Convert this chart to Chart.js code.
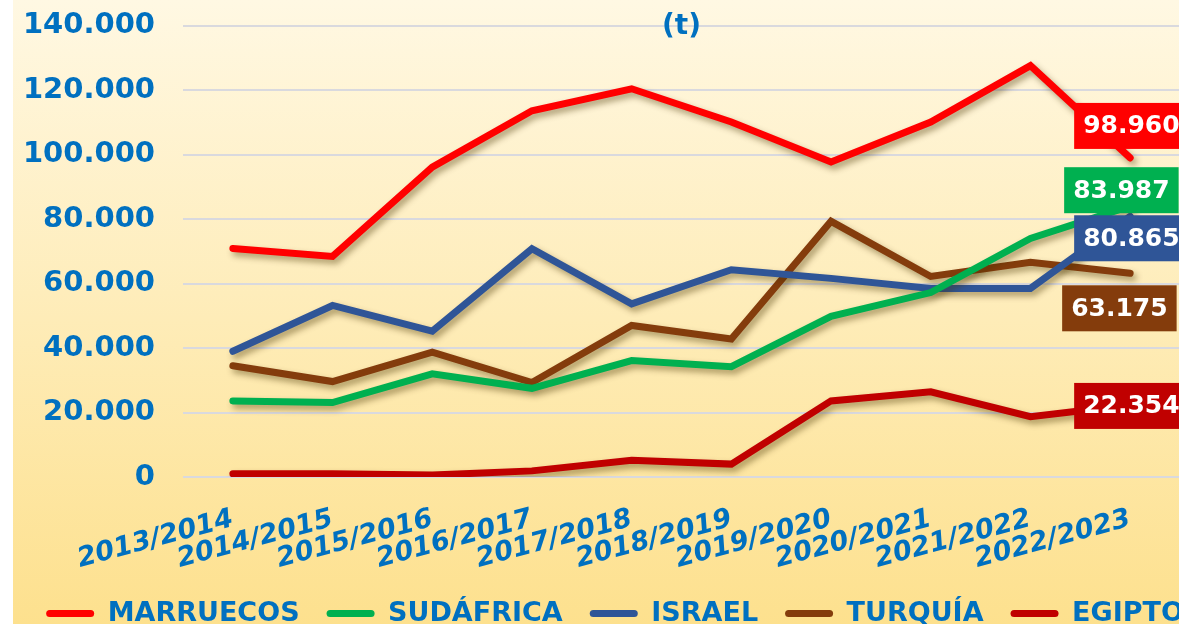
<!DOCTYPE html>
<html>
<head>
<meta charset="utf-8">
<script src="https://cdn.jsdelivr.net/npm/chart.js@4.4.1/dist/chart.umd.min.js"></script>
<style>
  html, body { margin: 0; padding: 0; background: #fff; overflow: hidden; }
  #wrap {
    position: absolute; left: 13px; top: 0;
    width: 1204px; height: 637px;
    background: linear-gradient(#fff8e3, #fde08c);
  }
</style>
</head>
<body>
<div id="wrap"><canvas id="chart"></canvas></div>
<script>
// campaigns on the x axis
const seasons = ['2013/2014', '2014/2015', '2015/2016', '2016/2017', '2017/2018',
                 '2018/2019', '2019/2020', '2020/2021', '2021/2022', '2022/2023'];

// tonnes per country
const marruecos = [70900, 68400, 96100, 113600, 120400, 110100, 97700, 110100, 127600, 98960];
const sudafrica = [23600, 23100, 32000, 27500, 36100, 34200, 49800, 57200, 74000, 83987];
const israel    = [39000, 53200, 45200, 70800, 53700, 64300, 61600, 58500, 58500, 80865];
const turquia   = [34500, 29600, 38700, 29300, 47000, 42800, 79300, 62200, 66600, 63175];
const egipto    = [1000, 1000, 600, 1900, 5200, 4000, 23600, 26400, 18700, 22354];

const countries = ['MARRUECOS', 'SUDÁFRICA', 'ISRAEL', 'TURQUÍA', 'EGIPTO'];
const yMax = 140000;
const yStep = 20000;

const colors = ['#ff0000', '#00b050', '#2f5597', '#843c0c', '#c00000'];
// where each end label box sits relative to its last point (dx to box left, dy to box middle)
const labelOffsets = [[-56, -32], [-66, -16], [-56, 22], [-68, 35], [-56, 1]];

const blue = '#0070c0';
const fmt = v => String(v).replace(/\B(?=(\d{3})+(?!\d))/g, '.');

Chart.defaults.font.family = 'DejaVu Sans';

const lineShadow = {
  id: 'lineShadow',
  beforeDatasetDraw(chart) {
    const c = chart.ctx;
    c.save();
    c.shadowColor = 'rgba(70,50,0,0.45)';
    c.shadowBlur = 6;
    c.shadowOffsetX = 3;
    c.shadowOffsetY = 4;
  },
  afterDatasetDraw(chart) {
    chart.ctx.restore();
  }
};

const endLabels = {
  id: 'endLabels',
  afterDatasetsDraw(chart) {
    const c = chart.ctx;
    c.save();
    c.font = 'bold 25px "DejaVu Sans"';
    c.textBaseline = 'middle';
    chart.data.datasets.forEach((ds, i) => {
      const meta = chart.getDatasetMeta(i);
      const last = meta.data[meta.data.length - 1];
      const txt = fmt(ds.data[ds.data.length - 1]);
      const w = c.measureText(txt).width + 18;
      const h = 46;
      const x = last.x + labelOffsets[i][0];
      const y = last.y + labelOffsets[i][1];
      c.fillStyle = ds.borderColor;
      c.fillRect(x, y - h / 2, w, h);
      c.fillStyle = '#fff';
      c.fillText(txt, x + 9, y + 1);
    });
    c.restore();
  }
};

const series = [marruecos, sudafrica, israel, turquia, egipto];

new Chart(document.getElementById('chart'), {
  type: 'line',
  data: {
    labels: seasons,
    datasets: series.map((d, i) => ({
      label: countries[i],
      data: d,
      borderColor: colors[i],
      backgroundColor: colors[i],
      borderWidth: 7,
      borderCapStyle: 'round',
      borderJoinStyle: 'miter',
      pointRadius: 0,
      tension: 0,
      yAxisID: 'y'
    }))
  },
  options: {
    responsive: true,
    maintainAspectRatio: false,
    animation: false,
    layout: { padding: 0 },
    plugins: {
      tooltip: { enabled: false },
      title: {
        display: true,
        text: '(t)',
        color: blue,
        fullSize: false,
        font: { size: 28, weight: 'bold' },
        padding: { top: 10, bottom: -18 }
      },
      legend: {
        position: 'bottom',
        labels: {
          color: blue,
          font: { size: 27, weight: 'bold' },
          boxWidth: 48,
          boxHeight: 7,
          padding: 27,
          useBorderRadius: true,
          borderRadius: 3.5,
          generateLabels: chart => chart.data.datasets.map((ds, i) => ({
            text: ds.label,
            fillStyle: ds.borderColor,
            strokeStyle: ds.borderColor,
            fontColor: blue,
            lineWidth: 0,
            borderRadius: 3.5,
            hidden: false,
            datasetIndex: i
          }))
        }
      }
    },
    scales: {
      x: {
        offset: true,
        grid: { display: false },
        border: { display: false },
        ticks: {
          color: blue,
          font: { size: 27, style: 'italic', weight: 'bold' },
          minRotation: 15,
          maxRotation: 15,
          autoSkip: false,
          padding: 18
        },
        afterFit: s => { s.height = 96; }
      },
      y: {
        position: 'left',
        min: 0,
        max: yMax,
        // invisible tick marks give the gap between labels and plot
        grid: { color: '#d9d9de', lineWidth: 2, drawTicks: true, tickLength: 28, tickColor: 'rgba(0,0,0,0)' },
        border: { display: false },
        ticks: {
          stepSize: yStep,
          color: blue,
          font: { size: 29, weight: 'bold' },
          padding: 0,
          callback: v => fmt(v)
        },
        afterFit: s => { s.width = 170; }
      },
      // empty right axis, only keeps the plot from running to the canvas edge
      yRight: {
        position: 'right',
        display: true,
        grid: { display: false },
        border: { display: false },
        ticks: { display: false },
        afterFit: s => { s.width = 37; }
      }
    }
  },
  plugins: [lineShadow, endLabels]
});
</script>
</body>
</html>
